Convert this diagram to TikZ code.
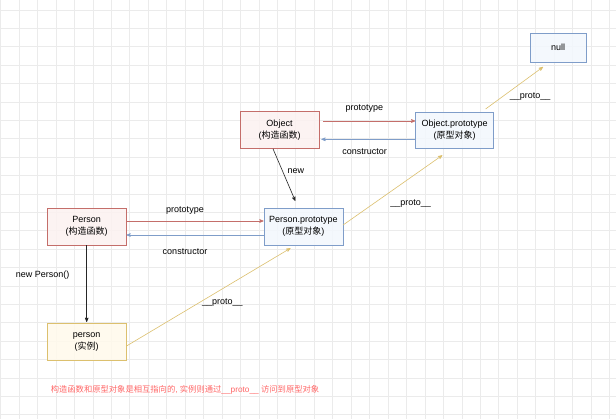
\documentclass[tikz,border=0pt]{standalone}
\usepackage{fontspec}
\setmainfont{Liberation Sans}
\newfontfamily\cjk{Noto Sans CJK SC}
\usepackage{tikz}
\usetikzlibrary{arrows,positioning}

\definecolor{redline}{HTML}{C46E6A}
\definecolor{redfill}{HTML}{FCF1F0}
\definecolor{blueline}{HTML}{7F9DC9}
\definecolor{bluefill}{HTML}{F3F7FD}
\definecolor{yellowline}{HTML}{DCC06E}
\definecolor{yellowfill}{HTML}{FFFAEC}
\definecolor{gridgray}{HTML}{EBEBEB}
\definecolor{notered}{HTML}{FF6666}

\newcommand{\zh}[1]{{\cjk #1}}

\begin{document}
\begin{tikzpicture}[x=1pt,y=-1pt,>=stealth',semithick,
    font=\fontsize{9}{12}\selectfont,
    box/.style={rectangle, draw, align=center, minimum width=79pt,
      minimum height=37pt, inner sep=0pt, fill opacity=0.85, text opacity=1},
    redbox/.style={box, draw=redline, fill=redfill},
    bluebox/.style={box, draw=blueline, fill=bluefill},
    yellowbox/.style={box, draw=yellowline, fill=yellowfill},
    redarrow/.style={->, draw=redline},
    bluearrow/.style={->, draw=blueline},
    protoarrow/.style={->, draw=yellowline},
    newarrow/.style={->, draw=black!85},
    gridline/.style={draw=gridgray, line width=0.5pt}]
  \fill[white] (0,0) rectangle (616,419);
  \useasboundingbox (0,0) rectangle (616,419);
  \foreach \i in {0,...,33}
    \draw[gridline] ({0.5+18.45*\i},0) -- ({0.5+18.45*\i},419);
  \foreach \j in {0,...,22}
    \draw[gridline] (0,{9.9+18.4*\j}) -- (616,{9.9+18.4*\j});

  \node[redbox] (Person) at (86.7,226.7) {Person\\(\zh{构造函数})};
  \node[bluebox] (PersonProto) [right=137pt of Person] {Person.prototype\\(\zh{原型对象})};
  \node[yellowbox] (person) [below=78pt of Person] {person\\(\zh{实例})};
  \node[redbox] (Object) at (279.5,130) {Object\\(\zh{构造函数})};
  \node[bluebox, minimum width=78pt, minimum height=36pt] (ObjectProto)
    [right=96pt of Object] {Object.prototype\\(\zh{原型对象})};
  \node[bluebox, minimum width=56pt, minimum height=29pt] (null) at (558,47.5) {null};

  \path ([xshift=4pt,yshift=9pt]Object.east) edge[redarrow]
      node[pos=0.446, yshift=12pt] {prototype} ([yshift=9pt]ObjectProto.west)
    ([yshift=-9.3pt]ObjectProto.west) edge[bluearrow]
      node[pos=0.54, yshift=-12pt] {constructor} ([xshift=2pt,yshift=-9.3pt]Object.east)
    ([xshift=-6.5pt]Object.south) edge[newarrow]
      node[pos=0.43, xshift=13.3pt] {new} ([xshift=-8pt,yshift=7pt]PersonProto.north)
    ([yshift=5.7pt]Person.east) edge[redarrow]
      node[pos=0.427, yshift=10.3pt] {prototype} ([yshift=5.7pt]PersonProto.west)
    ([yshift=-8.3pt]PersonProto.west) edge[bluearrow]
      node[pos=0.573, yshift=-16.7pt] {constructor} ([yshift=-8.3pt]Person.east)
    (Person.south) edge[newarrow]
      node[pos=0.39, xshift=-44pt] {new Person()} ([yshift=1.6pt]person.north)
    ([yshift=-3.7pt]person.east) edge[protoarrow]
      node[pos=0.584, yshift=-13.8pt] {\_\_proto\_\_} ([xshift=-12.8pt,yshift=-2.7pt]PersonProto.south)
    ([yshift=1.7pt]PersonProto.east) edge[protoarrow]
      node[pos=0.68, yshift=-25.9pt] {\_\_proto\_\_} ([xshift=-12.3pt,yshift=-7pt]ObjectProto.south)
    ([xshift=31pt,yshift=2.7pt]ObjectProto.north) edge[protoarrow]
      node[pos=0.776, yshift=-20.5pt] {\_\_proto\_\_} ([xshift=-15pt,yshift=-4.7pt]null.south)
  ;

  \node[text=notered, font=\fontsize{8.3}{10}\selectfont] (note) at (185,390)
    {\zh{构造函数和原型对象是相互指向的}, \zh{实例则通过}\_\_proto\_\_ \zh{访问到原型对象}};
\end{tikzpicture}
\end{document}
